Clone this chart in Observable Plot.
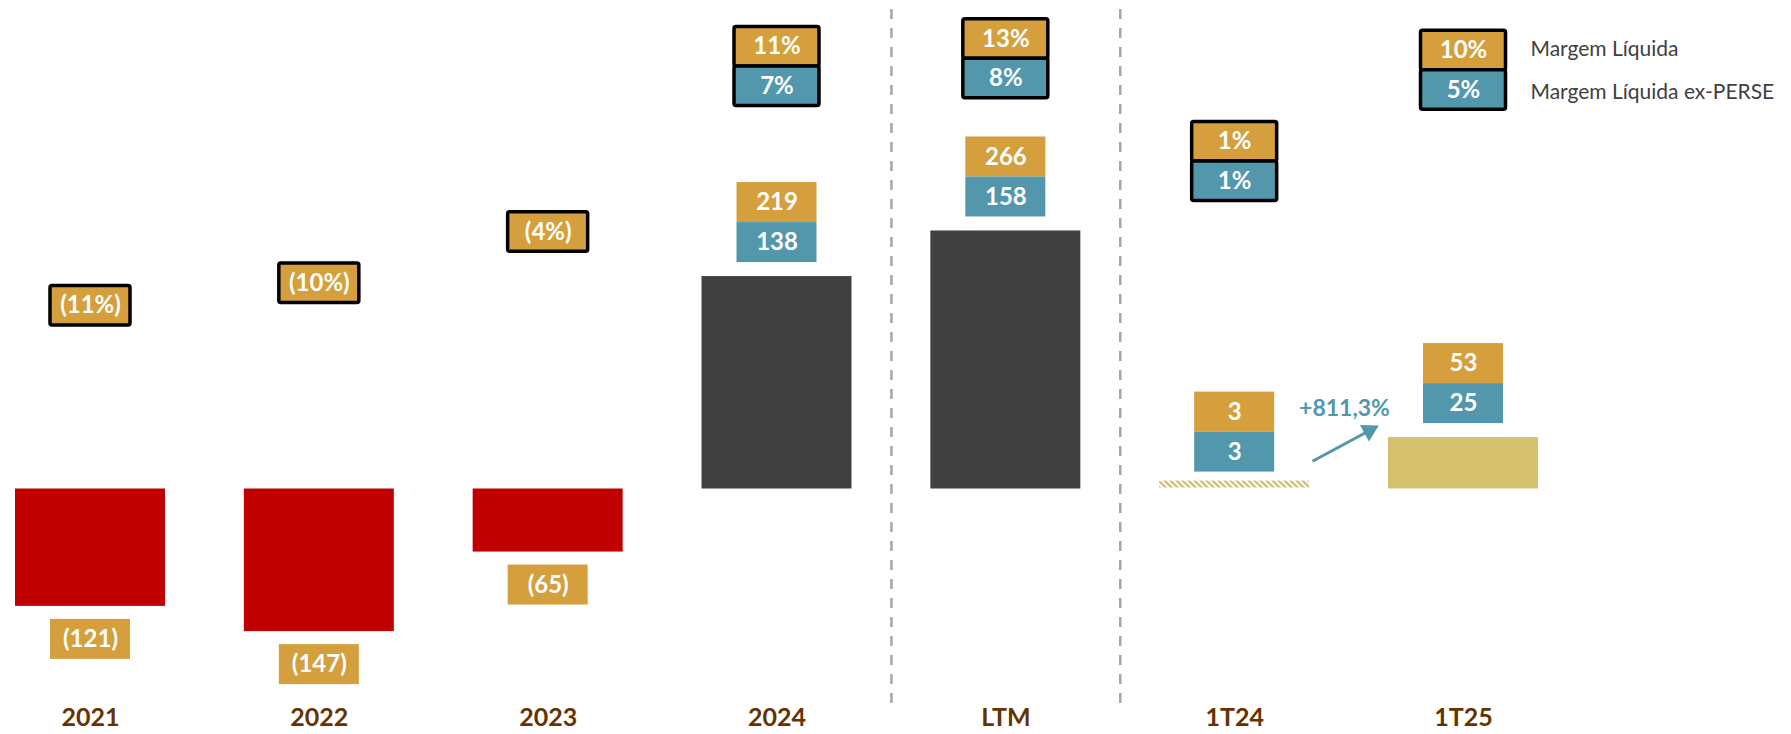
<!DOCTYPE html>
<html>
<head>
<meta charset="utf-8">
<script src="https://cdn.jsdelivr.net/npm/d3@7"></script>
<script src="https://cdn.jsdelivr.net/npm/@observablehq/plot@0.6"></script>
<style>
  html, body { margin: 0; padding: 0; background: #ffffff; }
</style>
</head>
<body>
<div id="chart"></div>
<script>
// ---------------- data ----------------
const categories    = ["2021", "2022", "2023", "2024", "LTM", "1T24", "1T25"];
const lucroLiquido  = [-121, -147, -65, 219, 266, 3, 53];       // R$ mi
const lucroExPerse  = [null, null, null, 138, 158, 3, 25];      // R$ mi
const margemLiquida = [-11, -10, -4, 11, 13, 1, 10];            // %
const margemExPerse = [null, null, null, 7, 8, 1, 5];           // %
const legendLabels  = ["Margem Líquida", "Margem Líquida ex-PERSE"];
const growthLabel   = "+811,3%";

// ---------------- layout (not data) ----------------
const pctLevel = [189, 212, 265, 456, 464, 358, 452]; // vertical level of the margin boxes, in value units
const ORANGE = "#D49F3C", TEAL = "#5397AD", RED = "#C00000", DARK = "#404040", KHAKI = "#D6C16C";
const BROWN = "#663300";

const fmtVal = v => v < 0 ? `(${-v})` : `${v}`;
const fmtPct = v => v < 0 ? `(${-v}%)` : `${v}%`;

const rows = categories.map((cat, i) => ({
  i, cat,
  value: lucroLiquido[i], ex: lucroExPerse[i],
  m: margemLiquida[i], mx: margemExPerse[i],
  level: pctLevel[i]
}));
const pos = rows.filter(d => d.ex != null);
const neg = rows.filter(d => d.ex == null);
const pctSingle = rows.filter(d => d.mx == null);
const pctDouble = rows.filter(d => d.mx != null);

const boxText = {fill: "white", fontWeight: "bold", fontSize: 24, fontFamily: "Lato"};

const svg = Plot.plot({
  width: 1791,
  height: 734,
  marginTop: 9,
  marginBottom: 27,
  marginLeft: 0,
  marginRight: 0,
  style: {fontFamily: "Lato, sans-serif", background: "white"},
  x: {type: "linear", domain: [0, 6], range: [90, 1463]},
  y: {type: "linear", domain: [0, 100], range: [488.5, 391.5], axis: null},
  marks: [
    // dashed separators
    Plot.ruleX([3.5, 4.5], {stroke: "#A6A6A6", strokeWidth: 2.5, strokeDasharray: "10,9"}),

    // bars
    Plot.rect(rows.filter(d => d.value < 0), {x1: "i", x2: "i", y1: () => 0, y2: "value", insetLeft: -75, insetRight: -75, fill: RED}),
    Plot.rect(rows.filter(d => d.cat === "2024" || d.cat === "LTM"), {x1: "i", x2: "i", y1: () => 0, y2: "value", insetLeft: -75, insetRight: -75, fill: DARK}),
    Plot.rect(rows.filter(d => d.cat === "1T24"), {x1: "i", x2: "i", y1: () => 0, y2: "value", insetLeft: -75, insetRight: -75, insetTop: -5, insetBottom: 1, fill: "url(#hatch)"}),
    Plot.rect(rows.filter(d => d.cat === "1T25"), {x1: "i", x2: "i", y1: () => 0, y2: "value", insetLeft: -75, insetRight: -75, fill: KHAKI}),

    // value label stacks (positive)
    Plot.rect(pos, {x1: "i", x2: "i", y1: "value", y2: "value", insetLeft: -40, insetRight: -40, insetTop: -94, insetBottom: 54, fill: ORANGE}),
    Plot.rect(pos, {x1: "i", x2: "i", y1: "value", y2: "value", insetLeft: -40, insetRight: -40, insetTop: -54, insetBottom: 14, fill: TEAL}),
    Plot.text(pos, {x: "i", y: "value", text: d => fmtVal(d.value), dy: -74, ...boxText}),
    Plot.text(pos, {x: "i", y: "value", text: d => fmtVal(d.ex), dy: -34, ...boxText}),
    // value labels (negative)
    Plot.rect(neg, {x1: "i", x2: "i", y1: "value", y2: "value", insetLeft: -40, insetRight: -40, insetTop: 13, insetBottom: -53, fill: ORANGE}),
    Plot.text(neg, {x: "i", y: "value", text: d => fmtVal(d.value), dy: 33, ...boxText}),

    // margin boxes (single)
    Plot.rect(pctSingle, {x1: "i", x2: "i", y1: "level", y2: "level", insetLeft: -40, insetRight: -40, insetTop: -19.75, insetBottom: -19.75, fill: ORANGE, stroke: "black", strokeWidth: 3.5, rx: 2}),
    Plot.text(pctSingle, {x: "i", y: "level", text: d => fmtPct(d.m), ...boxText}),
    // margin boxes (double)
    Plot.rect(pctDouble, {x1: "i", x2: "i", y1: "level", y2: "level", insetLeft: -42.5, insetRight: -42.5, insetTop: -19.75, insetBottom: -19.75, fill: ORANGE, stroke: "black", strokeWidth: 3.5, rx: 2}),
    Plot.rect(pctDouble, {x1: "i", x2: "i", y1: "level", y2: "level", insetLeft: -42.5, insetRight: -42.5, insetTop: 19.75, insetBottom: -59.25, fill: TEAL, stroke: "black", strokeWidth: 3.5, rx: 2}),
    Plot.text(pctDouble, {x: "i", y: "level", text: d => fmtPct(d.m), ...boxText}),
    Plot.text(pctDouble, {x: "i", y: "level", text: d => fmtPct(d.mx), dy: 39.5, ...boxText}),

    // legend text (next to the 1T25 margin boxes)
    Plot.text([legendLabels[0]], {x: () => 6, y: () => pctLevel[6], text: d => d, dx: 67, dy: -1, textAnchor: "start", fill: "#404040", fontSize: 21, fontFamily: "Lato"}),
    Plot.text([legendLabels[1]], {x: () => 6, y: () => pctLevel[6], text: d => d, dx: 67, dy: 42, textAnchor: "start", fill: "#404040", fontSize: 21, fontFamily: "Lato"}),

    // growth annotation
    Plot.text([growthLabel], {x: () => 5.48, y: () => 83, text: d => d, fill: TEAL, fontWeight: "bold", fontSize: 23, fontFamily: "Lato"}),
    Plot.link([0], {x1: () => 5.340, y1: () => 28.6, x2: () => 5.588, y2: () => 60.1, stroke: TEAL, strokeWidth: 3}),
    Plot.dot([0], {x: () => 5.588, y: () => 60.1, symbol: "triangle", r: 7, fill: TEAL, stroke: "none", rotate: 61.6}),

    // category axis
    Plot.axisX({ticks: d3.range(categories.length), tickFormat: i => categories[i], tickSize: 0, tickPadding: 1,
                fontSize: 25, fontWeight: "bold", color: BROWN, label: null})
  ]
});

// hatch pattern for 1T24 bar
const defs = d3.select(svg).insert("defs", ":first-child");
const pat = defs.append("pattern").attr("id", "hatch").attr("patternUnits", "userSpaceOnUse")
  .attr("width", 6).attr("height", 6);
pat.append("path").attr("d", "M-1,-1 L7,7 M-1,5 L1,7 M5,-1 L7,1")
  .attr("stroke", KHAKI).attr("stroke-width", 2.4).attr("fill", "none");

document.getElementById("chart").appendChild(svg);
</script>
</body>
</html>
